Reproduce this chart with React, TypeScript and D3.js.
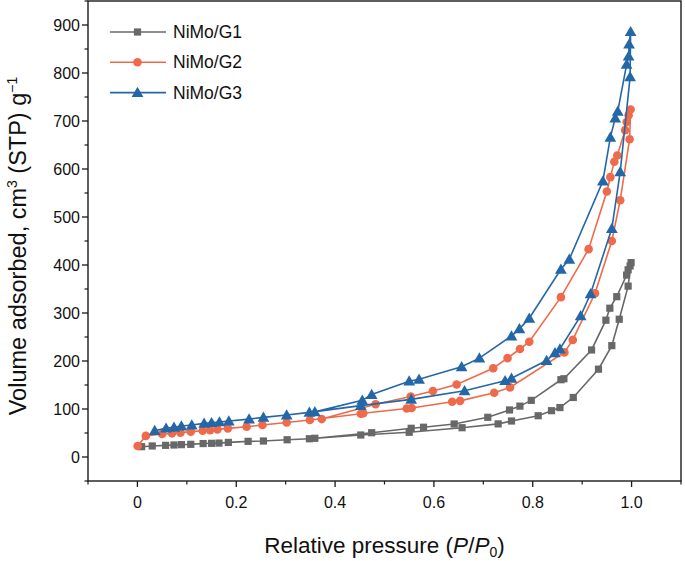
import React from "react";
import * as d3 from "d3";

const seriesNames = ["NiMo/G1", "NiMo/G2", "NiMo/G3"];
const seriesColors = ["#686868", "#EE6A4A", "#2467A8"];
const seriesSymbols = [d3.symbolSquare, d3.symbolCircle, d3.symbolTriangle];

// [P/P0, volume]
const g1: [number, number][] = [
  [0.0085, 21.5], [0.03, 23], [0.057, 24.3], [0.074, 25], [0.089, 25.7], [0.108, 26.4],
  [0.133, 28], [0.15, 28.5], [0.165, 29], [0.184, 30.4], [0.224, 32.6], [0.255, 33.3],
  [0.303, 35.9], [0.348, 38], [0.452, 45.8], [0.55, 51.5], [0.657, 61], [0.73, 69],
  [0.757, 75], [0.811, 86], [0.838, 96.5], [0.855, 103], [0.882, 124], [0.933, 183],
  [0.96, 232], [0.975, 287], [0.993, 356], [0.999, 405],
  [0.997, 398], [0.993, 390], [0.99, 379], [0.97, 334], [0.956, 310], [0.948, 285],
  [0.919, 223], [0.863, 163], [0.857, 161], [0.797, 118], [0.774, 106], [0.753, 98],
  [0.709, 82.7], [0.641, 68.8], [0.579, 62], [0.554, 59.8], [0.474, 50.6], [0.359, 39],
];

const g2: [number, number][] = [
  [0.0004, 23], [0.017, 44], [0.05, 48], [0.07, 49.3], [0.087, 50.7], [0.108, 52.8],
  [0.132, 54.8], [0.147, 56], [0.162, 57.6], [0.183, 59.7], [0.221, 63], [0.253, 66.7],
  [0.302, 72], [0.349, 77], [0.452, 90], [0.457, 91], [0.545, 101], [0.555, 102],
  [0.637, 115], [0.653, 117], [0.722, 134], [0.754, 145], [0.864, 218], [0.881, 244],
  [0.926, 341], [0.96, 450], [0.977, 535], [0.996, 662], [0.998, 724],
  [0.994, 712], [0.99, 698], [0.987, 681], [0.971, 628], [0.965, 615], [0.957, 583],
  [0.95, 553], [0.913, 433], [0.857, 333], [0.793, 240], [0.774, 225], [0.749, 206],
  [0.72, 185], [0.646, 151], [0.598, 137.5], [0.553, 126], [0.482, 110], [0.373, 79],
];

const g3: [number, number][] = [
  [0.035, 55], [0.058, 60], [0.074, 62], [0.089, 64.6], [0.11, 66.7], [0.135, 70],
  [0.15, 71.5], [0.166, 73], [0.185, 75], [0.226, 79], [0.255, 82.6], [0.302, 87.5],
  [0.348, 93], [0.452, 107], [0.554, 120], [0.662, 138], [0.744, 159], [0.757, 164],
  [0.828, 201], [0.845, 217], [0.855, 225], [0.897, 294], [0.917, 340], [0.96, 476],
  [0.977, 594], [0.997, 792], [0.998, 886],
  [0.995, 860], [0.994, 835], [0.99, 818], [0.972, 720], [0.967, 706], [0.957, 666],
  [0.942, 575], [0.874, 412], [0.857, 391], [0.793, 289], [0.773, 267], [0.757, 252],
  [0.692, 206], [0.656, 188], [0.57, 162], [0.55, 158], [0.474, 130], [0.455, 118],
  [0.359, 94],
];

const allSeries = [g1, g2, g3];

const xMajorTicks = [0, 0.2, 0.4, 0.6, 0.8, 1.0];
const xMinorTicks = [-0.1, 0.1, 0.3, 0.5, 0.7, 0.9, 1.1];
const yMajorTicks = [0, 100, 200, 300, 400, 500, 600, 700, 800, 900];
const yMinorTicks = [-50, 50, 150, 250, 350, 450, 550, 650, 750, 850, 950];

const W = 685;
const H = 561;
const margin = { left: 88, top: 1, right: 4, bottom: 80 };

export default function App() {
  const x = d3.scaleLinear().domain([-0.1, 1.1]).range([margin.left, W - margin.right]);
  const y = d3.scaleLinear().domain([-50, 950]).range([H - margin.bottom, margin.top]);
  const line = d3
    .line<[number, number]>()
    .x((d) => x(d[0]))
    .y((d) => y(d[1]));
  const symSizes = [52, 58, 60];
  const axisColor = "#1a1a1a";
  const font = "Arial, 'Liberation Sans', Helvetica, sans-serif";
  const x0 = margin.left;
  const x1 = W - margin.right;
  const y0 = H - margin.bottom;
  const y1 = margin.top;

  return (
    <svg
      width={W}
      height={H}
      style={{ position: "absolute", left: 0, top: 0, background: "#fff" }}
      fontFamily={font}
    >
      {/* series */}
      {allSeries.map((data, i) => (
        <g key={i}>
          <path d={line(data) || ""} fill="none" stroke={seriesColors[i]} strokeWidth={1.6} />
          {data.map((d, j) => (
            <path
              key={j}
              d={d3.symbol().type(seriesSymbols[i]).size(symSizes[i])() || ""}
              transform={`translate(${x(d[0])},${y(d[1]) + (i === 2 ? 1 : 0)})`}
              fill={seriesColors[i]}
            />
          ))}
        </g>
      ))}

      {/* frame */}
      <rect x={x0} y={y1} width={x1 - x0} height={y0 - y1} fill="none" stroke={axisColor} strokeWidth={1.4} />

      {/* x ticks */}
      {xMajorTicks.map((t) => (
        <g key={"xm" + t}>
          <line x1={x(t)} x2={x(t)} y1={y0} y2={y0 + 6} stroke={axisColor} strokeWidth={1.3} />
          <text x={x(t)} y={y0 + 27} textAnchor="middle" fontSize={16} fill="#111">
            {t === 0 ? "0" : t.toFixed(1)}
          </text>
        </g>
      ))}
      {xMinorTicks.map((t) => (
        <line key={"xn" + t} x1={x(t)} x2={x(t)} y1={y0} y2={y0 + 3.5} stroke={axisColor} strokeWidth={1.2} />
      ))}

      {/* y ticks */}
      {yMajorTicks.map((t) => (
        <g key={"ym" + t}>
          <line x1={x0 - 6} x2={x0} y1={y(t)} y2={y(t)} stroke={axisColor} strokeWidth={1.3} />
          <text x={x0 - 8} y={y(t) + 5.5} textAnchor="end" fontSize={16} fill="#111">
            {t}
          </text>
        </g>
      ))}
      {yMinorTicks.map((t) => (
        <line key={"yn" + t} x1={x0 - 3.5} x2={x0} y1={y(t)} y2={y(t)} stroke={axisColor} strokeWidth={1.2} />
      ))}

      {/* axis titles */}
      <text x={(x0 + x1) / 2} y={553} textAnchor="middle" fontSize={22.5} fill="#111">
        Relative pressure (<tspan fontStyle="italic">P</tspan>/<tspan fontStyle="italic">P</tspan>
        <tspan fontSize={14} dy={4}>0</tspan>
        <tspan dy={-4}>)</tspan>
      </text>
      <text
        transform={`translate(26, 246) rotate(-90)`}
        textAnchor="middle"
        fontSize={23.5}
        fill="#111"
      >
        Volume adsorbed, cm<tspan fontSize={14} dy={-9}>3</tspan>
        <tspan dy={9}> (STP) g</tspan>
        <tspan fontSize={14} dy={-9}>−1</tspan>
      </text>

      {/* legend */}
      {seriesNames.map((name, i) => {
        const ly = 32 + i * 30.3;
        return (
          <g key={name}>
            <line x1={110} x2={166} y1={ly} y2={ly} stroke={seriesColors[i]} strokeWidth={1.6} />
            <path
              d={d3.symbol().type(seriesSymbols[i]).size(symSizes[i])() || ""}
              transform={`translate(137.5,${ly + (i === 2 ? 1 : 0)})`}
              fill={seriesColors[i]}
            />
            <text x={173} y={ly + 6} fontSize={17.5} fill="#111">
              {name}
            </text>
          </g>
        );
      })}
    </svg>
  );
}
